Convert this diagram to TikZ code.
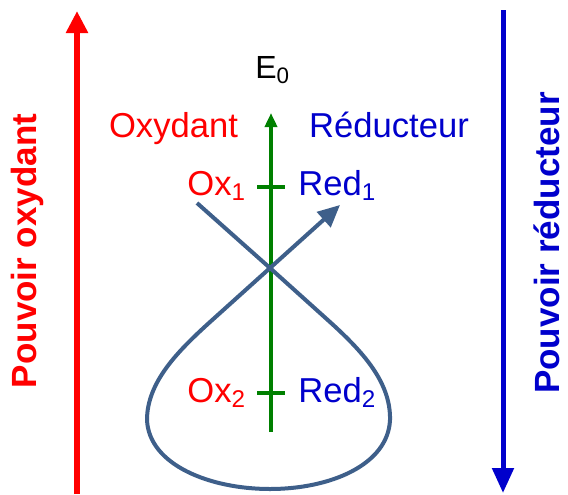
\documentclass[tikz,border=0pt]{standalone}
\usepackage{fontspec}
\setmainfont{Liberation Sans}
\usetikzlibrary{arrows.meta}
\definecolor{rouge}{RGB}{255,0,0}
\definecolor{bleu}{RGB}{0,0,204}
\definecolor{vert}{RGB}{0,128,0}
\definecolor{courbe}{RGB}{62,95,138}
\begin{document}
\begin{tikzpicture}[x=0.5pt,y=-0.5pt,
  lbl/.style={inner sep=0pt,font=\fontsize{17.3}{20}\selectfont},
  big/.style={inner sep=0pt,rotate=90,anchor=base,font=\fontsize{17.5}{20}\selectfont\bfseries},
  axe/.style={vert,line width=2pt},
  boucle/.style={courbe,line width=2pt,line join=round}]
\useasboundingbox (0,0) rectangle (568,494);
\fill[white] (0,0) rectangle (568,494);
% big side arrows
\coordinate (rb) at (77,494);
\coordinate (rt) at (77,11);
\draw[rouge,line width=2.8pt,-{Triangle[length=11pt,width=10.5pt]}] (rb) -- (rt);
\coordinate (bt) at (503,10);
\coordinate (bb) at (503,493);
\draw[bleu,line width=2.5pt,-{Triangle[length=12.5pt,width=10.5pt]}] (bt) -- (bb);
\node[big,rouge] (po) at (36,251) {Pouvoir oxydant};
\node[big,bleu] (pr) at (559,243) {Pouvoir réducteur};
% central axis
\coordinate (gb) at (271,432);
\coordinate (gt) at (271,113);
\draw[axe,-{Triangle[length=7pt,width=6pt]}] (gb) -- (gt);
\coordinate (t1a) at (257,187); \coordinate (t1b) at (285,187);
\coordinate (t2a) at (257,393); \coordinate (t2b) at (285,393);
\draw[axe] (t1a) -- (t1b);
\draw[axe] (t2a) -- (t2b);
% labels
\node[inner sep=0pt,anchor=base west,font=\fontsize{16}{19}\selectfont] (e0) at (255,78) {E\textsubscript{0}};
\node[lbl,rouge,anchor=base] (ox) at (173.5,137) {Oxydant};
\node[lbl,bleu,anchor=base] (red) at (389,137) {Réducteur};
\node[lbl,rouge,anchor=base west] (ox1) at (187,195) {Ox\textsubscript{1}};
\node[lbl,bleu,anchor=base west] (red1) at (298,195) {Red\textsubscript{1}};
\node[lbl,rouge,anchor=base west] (ox2) at (187,402) {Ox\textsubscript{2}};
\node[lbl,bleu,anchor=base west] (red2) at (298,402) {Red\textsubscript{2}};
% loop
\coordinate (s) at (197,203);
\coordinate (x) at (270,268);
\coordinate (r1) at (330,322);
\coordinate (rr) at (390,420);
\coordinate (bo) at (270,489);
\coordinate (ll) at (147,420);
\coordinate (l1) at (210,322);
\coordinate (e) at (340,205);
\draw[boucle,-{Triangle[length=11pt,width=10pt]}] (s) -- (x) -- (r1)
  .. controls (362,351) and (391,382) .. (rr)
  .. controls (388,465) and (330,489) .. (bo)
  .. controls (210,489) and (149,465) .. (ll)
  .. controls (147,382) and (178,351) .. (l1)
  -- (x) -- (e);
\end{tikzpicture}
\end{document}
